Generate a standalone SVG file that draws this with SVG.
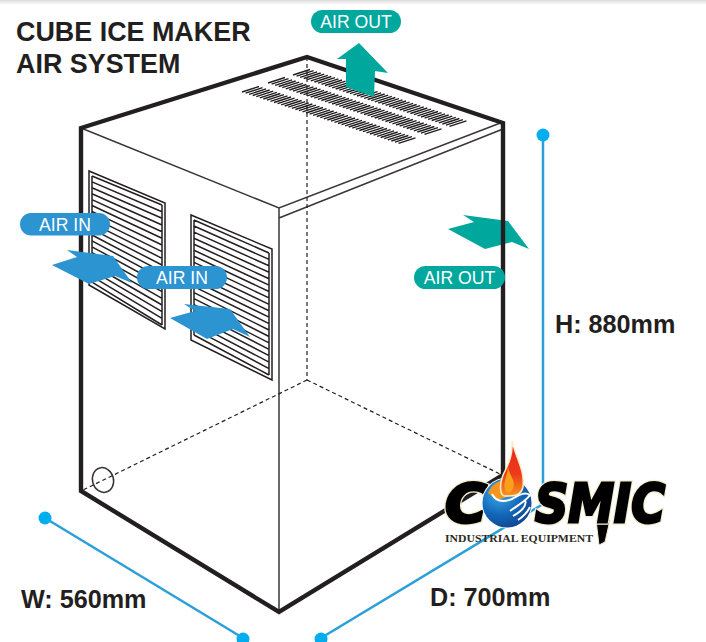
<svg xmlns="http://www.w3.org/2000/svg" width="706" height="642" viewBox="0 0 706 642">
<style>
text{font-family:"Liberation Sans",Arial,sans-serif}
.title{font-size:26.9px;font-weight:700;fill:#231f20}
.dim{font-size:25.2px;font-weight:700;fill:#231f20}
.pilltext{font-size:17.6px;fill:#fff;text-anchor:middle}
.thick{fill:none;stroke:#231f20;stroke-width:4.4;stroke-linejoin:miter}
.thin{fill:none;stroke:#3a3637;stroke-width:1.5}
.dash{fill:none;stroke:#231f20;stroke-width:1.2;stroke-dasharray:4 3}
.louver{fill:none;stroke:#231f20;stroke-width:1.5}
.slat{fill:none;stroke:#231f20;stroke-width:1.4}
.teal{fill:#00a79d}
.blue{fill:#2b94d1}
.dimline{fill:none;stroke:#2b9fd9;stroke-width:2.500}
.dot{fill:#00aeef}
.logo-big{font-family:"DejaVu Sans",sans-serif;font-size:54px;font-weight:700;font-style:italic;fill:#000}
.halo{stroke:#f3eccd;stroke-width:5.500}
.core{stroke:#000;stroke-width:3}
</style>
<defs>
<linearGradient id="shade" x1="0" y1="0" x2="0" y2="1"><stop offset="0" stop-color="#dcdcdc"/><stop offset="1" stop-color="#fff"/></linearGradient>
<radialGradient id="globe" cx="0.35" cy="0.3" r="0.8"><stop offset="0" stop-color="#3fa9e8"/><stop offset="0.55" stop-color="#1268b8"/><stop offset="1" stop-color="#123f8c"/></radialGradient>
<linearGradient id="flame" x1="0" y1="0" x2="0" y2="1"><stop offset="0" stop-color="#e8261c"/><stop offset="0.6" stop-color="#ee3a1a"/><stop offset="1" stop-color="#f7941d"/></linearGradient>
<path id="slat9" class="slat" d="M0 0l17-5.5m-13.44 6.67l17-5.5m-13.44 6.67l17-5.5m-13.44 6.67l17-5.5m-13.44 6.67l17-5.5m-13.44 6.67l17-5.5m-13.44 6.67l17-5.5m-13.44 6.67l17-5.5m-13.44 6.67l17-5.5"/>
</defs>
<rect width="706" height="642" fill="#fff"/>
<rect width="706" height="5" fill="url(#shade)"/>

<g id="title">
<text class="title" x="16" y="40.500">CUBE ICE MAKER</text>
<text class="title" x="16" y="73">AIR SYSTEM</text>
</g>

<g id="arrow-air-out-right"><polygon class="teal" points="463,215 508,221 529,249 512,242 485,249 448,229 474,222"/></g>

<g id="cabinet">
<path class="thin" d="M81 128L279 208L503 122M279 218L503 129M279 208V612"/>
<path class="dash" d="M307 57V380M307 380L81 491M307 380L502 475"/>
<ellipse class="thin" cx="103" cy="480" rx="10.500" ry="12.500" transform="rotate(-15 103 480)"/>
<path class="thick" d="M81 491V128L307 57L503 123V475L279 612Z"/>
</g>

<g id="top-vents">
<use href="#slat9" x="293" y="75"/><use href="#slat9" x="325" y="85.500"/><use href="#slat9" x="357" y="96"/><use href="#slat9" x="389" y="106.500"/><use href="#slat9" x="421" y="117"/>
<use href="#slat9" x="268" y="83"/><use href="#slat9" x="300" y="93.500"/><use href="#slat9" x="332" y="104"/><use href="#slat9" x="364" y="114.500"/><use href="#slat9" x="396" y="125"/>
<use href="#slat9" x="242" y="92"/><use href="#slat9" x="274" y="102.500"/><use href="#slat9" x="306" y="113"/><use href="#slat9" x="338" y="123.500"/><use href="#slat9" x="370" y="134"/>
</g>

<g id="louver-left">
<polygon class="louver" points="89,171 165,203 165,329 89,285"/>
<path class="louver" d="M92 176L162 205M92 181.900L162 211.700M92 187.800L162 218.300M92 193.700L162 225M92 199.600L162 231.700M92 205.500L162 238.300M92 211.400L162 245M92 217.300L162 251.700M92 223.200L162 258.300M92 229.100L162 265M92 235L162 271.700M92 240.900L162 278.300M92 246.800L162 285M92 252.700L162 291.700M92 258.600L162 298.300M92 264.500L162 305M92 270.400L162 311.700M92 276.300L162 318.300M92 282.200L162 325M92 176V282M162 205V325"/>
</g>
<g id="louver-right">
<polygon class="louver" points="191,215 272,249 272,380 191,340"/>
<path class="louver" d="M194 220L269 253M194 226L269 259.400M194 232.100L269 265.800M194 238.200L269 272.300M194 244.200L269 278.700M194 250.300L269 285.100M194 256.300L269 291.500M194 262.400L269 297.900M194 268.400L269 304.400M194 274.500L269 310.800M194 280.500L269 317.200M194 286.600L269 323.600M194 292.600L269 330M194 298.700L269 336.500M194 304.700L269 342.900M194 310.800L269 349.300M194 316.800L269 355.700M194 322.900L269 362.100M194 328.900L269 368.600M194 335L269 375M194 220V335M269 253V375"/>
</g>

<g id="connectors">
<path class="dimline" d="M45 518L243 638"/>
<path class="dimline" d="M321 638L543 504V135"/>
<circle class="dot" cx="45" cy="518" r="6.500"/>
<circle class="dot" cx="243" cy="639" r="6.500"/>
<circle class="dot" cx="321" cy="639" r="6.500"/>
<circle class="dot" cx="543" cy="135" r="6.500"/>
</g>

<g id="air-out-top">
<polygon class="teal" points="359,43 388,73 375,71 374,97 346,87 346,59 337,59"/>
<rect class="teal" x="311" y="10" width="90" height="23" rx="11.500"/>
<text class="pilltext" x="356" y="28">AIR OUT</text>
</g>
<g id="air-in-left">
<polygon class="blue" points="67,250 113,256 132,283 115,276 89,284 52,265 77,257"/>
<rect class="blue" x="20" y="213" width="90" height="22.500" rx="11.200"/>
<text class="pilltext" x="65" y="231">AIR IN</text>
</g>
<g id="air-in-right">
<polygon class="blue" points="184,304 230,309 250,337 233,329 207,339 170,318 195,311"/>
<rect class="blue" x="137" y="266" width="90" height="23" rx="11.500"/>
<text class="pilltext" x="182" y="284">AIR IN</text>
</g>
<g id="air-out-right">
<rect class="teal" x="414" y="266" width="91" height="23" rx="11.500"/>
<text class="pilltext" x="459.500" y="284">AIR OUT</text>
</g>

<g id="dimensions">
<text class="dim" x="21" y="608">W: 560mm</text>
<text class="dim" x="430" y="606">D: 700mm</text>
<text class="dim" x="555" y="333">H: 880mm</text>
</g>

<g id="logo">
<polygon points="596,520 610,520 605,542 599,545" fill="#000" stroke="#f3eccd" stroke-width="1"/>
<text class="logo-big halo" transform="translate(445 522)" textLength="42" lengthAdjust="spacingAndGlyphs">C</text>
<text class="logo-big halo" transform="translate(535 522)" textLength="130" lengthAdjust="spacingAndGlyphs">SMIC</text>
<text class="logo-big core" transform="translate(445 522)" textLength="42" lengthAdjust="spacingAndGlyphs">C</text>
<text class="logo-big core" transform="translate(535 522)" textLength="130" lengthAdjust="spacingAndGlyphs">SMIC</text>
<circle cx="507" cy="503" r="25.500" fill="#fff"/>
<circle cx="507" cy="503" r="24.500" fill="url(#globe)"/>
<path d="M488 493C492 484 498 481 504 480L512 495L498 500Z" fill="#f7941d"/>
<path d="M512 441C516 458 525 470 523 487C521 497 511 496 505 496C500 496 499 485 503 475C507 466 513 458 512 441Z" fill="url(#flame)" stroke="#f8efc8" stroke-width="1.500"/>
<path d="M508 467C510 477 516 480 513 489C510 494 506 494 505 489C503 482 507 477 508 467Z" fill="#f9a11b"/>
<path d="M492 494C496 502 504 502 512 499C518 496 524 491 530 495C526 501 518 505 510 511M525 500C527 505 522 511 513 516M530 507C527 513 521 518 518 520" fill="none" stroke="#fff" stroke-width="2"/>
<text x="445" y="541.500" font-size="10.500" font-weight="700" textLength="148" lengthAdjust="spacingAndGlyphs" style="font-family:'Liberation Serif',serif" fill="#2b2a1e">INDUSTRIAL EQUIPMENT</text>
</g>
</svg>
